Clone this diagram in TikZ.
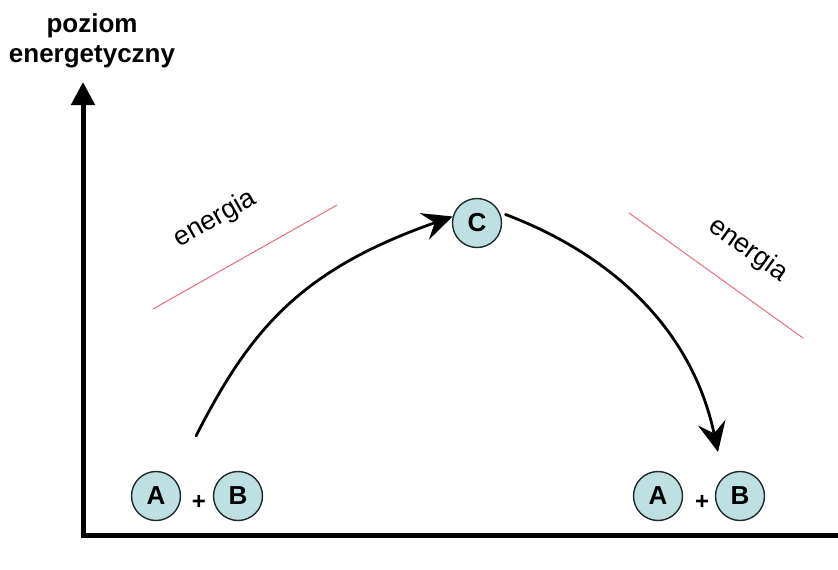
\documentclass[tikz,border=0pt]{standalone}
\usepackage{fontspec}
\setmainfont{Liberation Sans}
\usetikzlibrary{arrows.meta}
\definecolor{molfill}{HTML}{BFE0E3}
\definecolor{molline}{HTML}{1E2A2C}
\definecolor{redline}{HTML}{E4707C}
\tikzset{
  mol/.style={circle, draw=molline, line width=1.4pt, fill=molfill, minimum size=49pt, inner sep=0pt, font=\fontsize{26}{26}\selectfont\bfseries},
  plus/.style={font=\fontsize{24}{24}\selectfont\bfseries, inner sep=0pt},
  axis/.style={line width=5pt, line join=miter, -{Triangle[length=23pt,width=23pt]}},
  curve/.style={line width=2.8pt, line cap=round},
  arrowhd/.style={-{Stealth[length=30pt,width=28pt,inset=11pt]}},
  energyline/.style={draw=redline, line width=1pt},
  energytxt/.style={font=\fontsize{27}{27}\selectfont, inner sep=0pt},
  title/.style={font=\fontsize{26}{30}\selectfont\bfseries, align=center, inner sep=0pt}
}
\begin{document}
\begin{tikzpicture}[x=1pt,y=-1pt]
\useasboundingbox (0,0) rectangle (838,570);
\fill[white] (0,0) rectangle (838,570);
% title
\node[title] (title) at (92,41) {poziom\\energetyczny};
% axes
\coordinate (xend) at (838,535);
\coordinate (origin) at (83,535);
\coordinate (ytip) at (83,82);
\draw[axis] (xend) -- (origin) -- (ytip);
% molecules
\node[mol] (A1) at (156,496) {A};
\node[plus] (p1) at (199,502) {+};
\node[mol] (B1) at (238,496) {B};
\node[mol] (A2) at (658,496) {A};
\node[plus] (p2) at (702,502) {+};
\node[mol] (B2) at (740,496) {B};
\node[mol] (C) at (477,223) {C};
% curves
\coordinate (s1) at (196,436);
\draw[curve, arrowhd] (s1) .. controls (250,330) and (300,270) .. (C.165);
\coordinate (e2) at (718,452);
\draw[curve, arrowhd, shorten <=6pt] (C.25) .. controls (600,250) and (690,320) .. (e2);
% energy lines and labels
\coordinate (l1a) at (153,309);
\coordinate (l1b) at (337,205);
\draw[energyline] (l1a) -- (l1b);
\node[energytxt, rotate=29.5] (en1) at (215,219) {energia};
\coordinate (l2a) at (629,213);
\coordinate (l2b) at (803,338);
\draw[energyline] (l2a) -- (l2b);
\node[energytxt, rotate=-35.7] (en2) at (748,250) {energia};
\end{tikzpicture}
\end{document}
